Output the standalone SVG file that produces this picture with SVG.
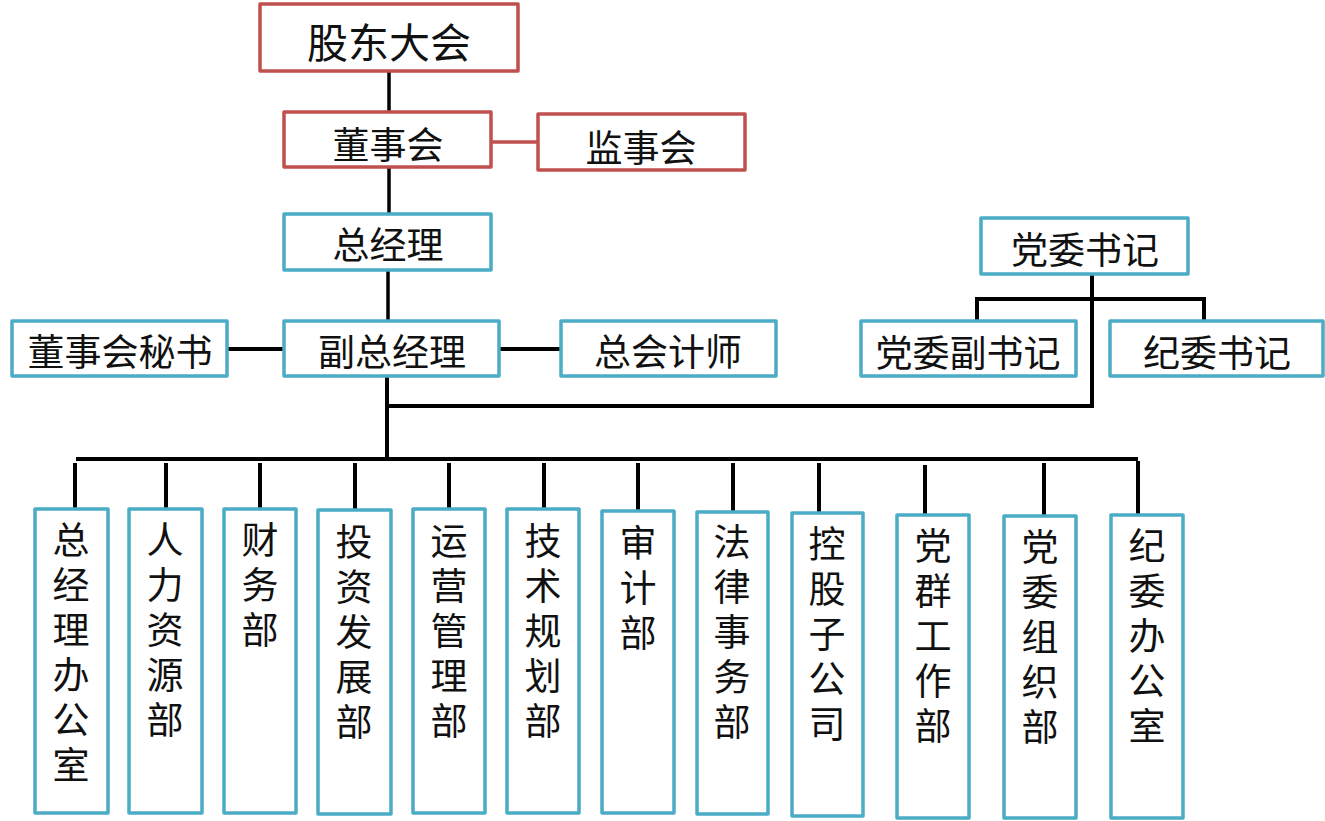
<svg xmlns="http://www.w3.org/2000/svg" width="1325" height="821" viewBox="0 0 1325 821">
<style>
.r{fill:#fff;stroke:#c0504d;stroke-width:3.5;stroke-linejoin:round}
.b{fill:#fff;stroke:#4bacc6;stroke-width:3.5;stroke-linejoin:round}
.t{font-family:"Noto Sans CJK SC","Noto Sans",sans-serif;fill:#111;text-anchor:middle;dominant-baseline:central}
.h{font-size:37px}
.v{font-family:"Noto Sans CJK SC","Noto Sans",sans-serif;fill:#111;font-size:37px;writing-mode:vertical-rl;letter-spacing:8px;text-anchor:start}
.c line{stroke:#000;stroke-width:4;stroke-linecap:butt}
</style>
<rect width="1325" height="821" fill="#fff"/>
<g class="c" id="connectors">
<line x1="389" y1="71" x2="389" y2="112" style="stroke-width:3.5"/>
<line x1="491" y1="142" x2="538" y2="142" style="stroke:#c0504d;stroke-width:3.5"/>
<line x1="389" y1="167" x2="389" y2="214" style="stroke-width:3.5"/>
<line x1="388" y1="270" x2="388" y2="321" style="stroke-width:3.5"/>
<line x1="227" y1="349" x2="284" y2="349"/>
<line x1="499" y1="349" x2="561" y2="349"/>
<line x1="387" y1="376" x2="387" y2="461"/>
<line x1="387" y1="406" x2="1094" y2="406"/>
<line x1="1092" y1="274" x2="1092" y2="408"/>
<line x1="975" y1="299" x2="1206" y2="299"/>
<line x1="977" y1="297" x2="977" y2="321"/>
<line x1="1204" y1="297" x2="1204" y2="321"/>
<line x1="76" y1="459" x2="1138" y2="459"/>
<line x1="75" y1="463" x2="75" y2="509"/>
<line x1="166" y1="463" x2="166" y2="509"/>
<line x1="260" y1="463" x2="260" y2="509"/>
<line x1="355" y1="463" x2="355" y2="510"/>
<line x1="449" y1="463" x2="449" y2="509"/>
<line x1="544" y1="463" x2="544" y2="509"/>
<line x1="638" y1="463" x2="638" y2="510"/>
<line x1="733" y1="463" x2="733" y2="511"/>
<line x1="819" y1="463" x2="819" y2="512"/>
<line x1="925" y1="465" x2="925" y2="514"/>
<line x1="1044" y1="463" x2="1044" y2="515"/>
<line x1="1138" y1="461" x2="1138" y2="514"/>
</g>
<g id="n-gudong"><rect class="r" x="260" y="4" width="258" height="67"/><text class="t" x="389" y="40" style="font-size:41px">股东大会</text></g>
<g id="n-dongshihui"><rect class="r" x="284" y="112" width="207" height="55"/><text class="t h" x="388" y="143">董事会</text></g>
<g id="n-jianshihui"><rect class="r" x="538" y="114" width="207" height="56"/><text class="t h" x="641" y="146">监事会</text></g>
<g id="n-zongjingli"><rect class="b" x="284" y="214" width="207" height="56"/><text class="t h" x="388" y="243">总经理</text></g>
<g id="n-mishu"><rect class="b" x="12" y="321" width="215" height="55"/><text class="t h" x="120" y="350">董事会秘书</text></g>
<g id="n-fuzong"><rect class="b" x="284" y="321" width="215" height="55"/><text class="t h" x="392" y="350">副总经理</text></g>
<g id="n-kuaiji"><rect class="b" x="561" y="321" width="215" height="55"/><text class="t h" x="668" y="350">总会计师</text></g>
<g id="n-dangwei"><rect class="b" x="981" y="218" width="207" height="56"/><text class="t h" x="1085" y="248">党委书记</text></g>
<g id="n-dangfu"><rect class="b" x="861" y="321" width="215" height="55"/><text class="t h" x="968" y="351">党委副书记</text></g>
<g id="n-jiwei"><rect class="b" x="1110" y="321" width="213" height="55"/><text class="t h" x="1217" y="351">纪委书记</text></g>
<g id="d1"><rect class="b" x="35" y="509" width="73" height="304"/><text class="v" x="71" y="521">总经理办公室</text></g>
<g id="d2"><rect class="b" x="129" y="509" width="73" height="304"/><text class="v" x="165" y="521">人力资源部</text></g>
<g id="d3"><rect class="b" x="224" y="509" width="72" height="304"/><text class="v" x="260" y="521">财务部</text></g>
<g id="d4"><rect class="b" x="318" y="510" width="73" height="304"/><text class="v" x="354" y="523">投资发展部</text></g>
<g id="d5"><rect class="b" x="413" y="509" width="72" height="304"/><text class="v" x="449" y="522">运营管理部</text></g>
<g id="d6"><rect class="b" x="507" y="509" width="72" height="304"/><text class="v" x="543" y="522">技术规划部</text></g>
<g id="d7"><rect class="b" x="602" y="511" width="72" height="302"/><text class="v" x="638" y="524">审计部</text></g>
<g id="d8"><rect class="b" x="697" y="512" width="71" height="302"/><text class="v" x="732" y="523">法律事务部</text></g>
<g id="d9"><rect class="b" x="792" y="513" width="71" height="303"/><text class="v" x="827" y="525">控股子公司</text></g>
<g id="d10"><rect class="b" x="897" y="515" width="72" height="303"/><text class="v" x="933" y="527">党群工作部</text></g>
<g id="d11"><rect class="b" x="1004" y="516" width="72" height="302"/><text class="v" x="1040" y="528">党委组织部</text></g>
<g id="d12"><rect class="b" x="1111" y="515" width="72" height="303"/><text class="v" x="1147" y="527">纪委办公室</text></g>
</svg>
